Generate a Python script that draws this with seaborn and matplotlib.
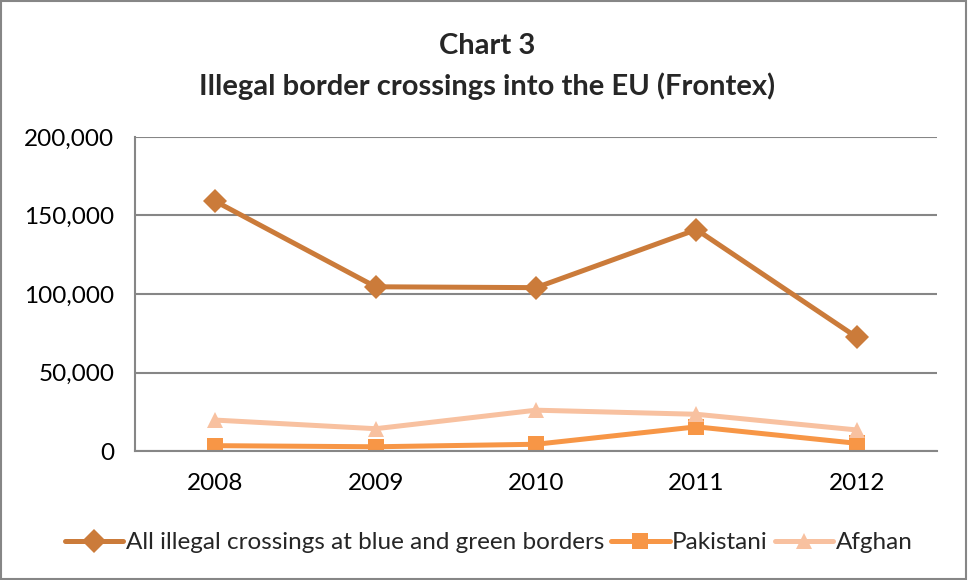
import matplotlib
matplotlib.use("Agg")
import matplotlib.pyplot as plt
import seaborn as sns
import pandas as pd
from matplotlib.patches import Rectangle

years = ["2008", "2009", "2010", "2011", "2012"]
all_crossings = [159092, 104599, 104049, 141051, 72437]
pakistani = [3400, 2700, 4300, 15400, 4900]
afghan = [19700, 14200, 26000, 23400, 13400]

series_names = ["All illegal crossings at blue and green borders", "Pakistani", "Afghan"]
series_values = [all_crossings, pakistani, afghan]
colors = ["#CB7B3A", "#F79646", "#F8C1A0"]

rows = []
for name, vals in zip(series_names, series_values):
    for i, (y, v) in enumerate(zip(years, vals)):
        rows.append({"pos": i, "year": y, "value": v, "series": name})
df = pd.DataFrame(rows)

sns.set_theme(style="white")
plt.rcParams["font.family"] = ["Lato", "DejaVu Sans"]

fig = plt.figure(figsize=(9.68, 5.8), dpi=100)
ax = fig.add_axes([0.1395, 0.2224, 0.8285, 0.5414])

sns.lineplot(data=df, x="pos", y="value", hue="series", style="series",
             hue_order=series_names, style_order=series_names,
             palette=dict(zip(series_names, colors)),
             markers={series_names[0]: "D", series_names[1]: "s", series_names[2]: "^"},
             dashes=False, linewidth=3.6, markersize=12, markeredgewidth=0,
             ax=ax, legend=True)

ax.set_xlim(-0.5, 4.5)
ax.set_ylim(0, 200000)
ax.set_xticks(range(len(years)))
ax.set_xticklabels(years)
ax.set_yticks([0, 50000, 100000, 150000, 200000])
ax.set_yticklabels(["0", "50,000", "100,000", "150,000", "200,000"])
ax.tick_params(axis="both", labelsize=17.5, colors="black", length=0)
ax.tick_params(axis="y", pad=15)
ax.tick_params(axis="x", pad=16)
ax.set_xlabel("")
ax.set_ylabel("")
ax.yaxis.grid(True, color="#868686", linewidth=1.5)
ax.set_axisbelow(True)
for s in ["top", "right"]:
    ax.spines[s].set_visible(False)
for s in ["left", "bottom"]:
    ax.spines[s].set_color("#868686")
    ax.spines[s].set_linewidth(1.5)

handles, labels = ax.get_legend_handles_labels()
ax.legend(handles, labels, loc="center", bbox_to_anchor=(0.505, 0.064),
          bbox_transform=fig.transFigure, ncol=3, frameon=False,
          fontsize=17.5, handlelength=2.4, handletextpad=0.1, columnspacing=0.3)

fig.text(0.503, 0.921, "Chart 3", ha="center", va="center", fontsize=21, fontweight="bold")
fig.text(0.503, 0.852, "Illegal border crossings into the EU (Frontex)", ha="center",
         va="center", fontsize=21, fontweight="bold")

fig.patches.append(Rectangle((0.001, 0.002), 0.997, 0.996, transform=fig.transFigure,
                             fill=False, edgecolor="#868686", linewidth=1.5))

fig.savefig("out.png", dpi=100)
